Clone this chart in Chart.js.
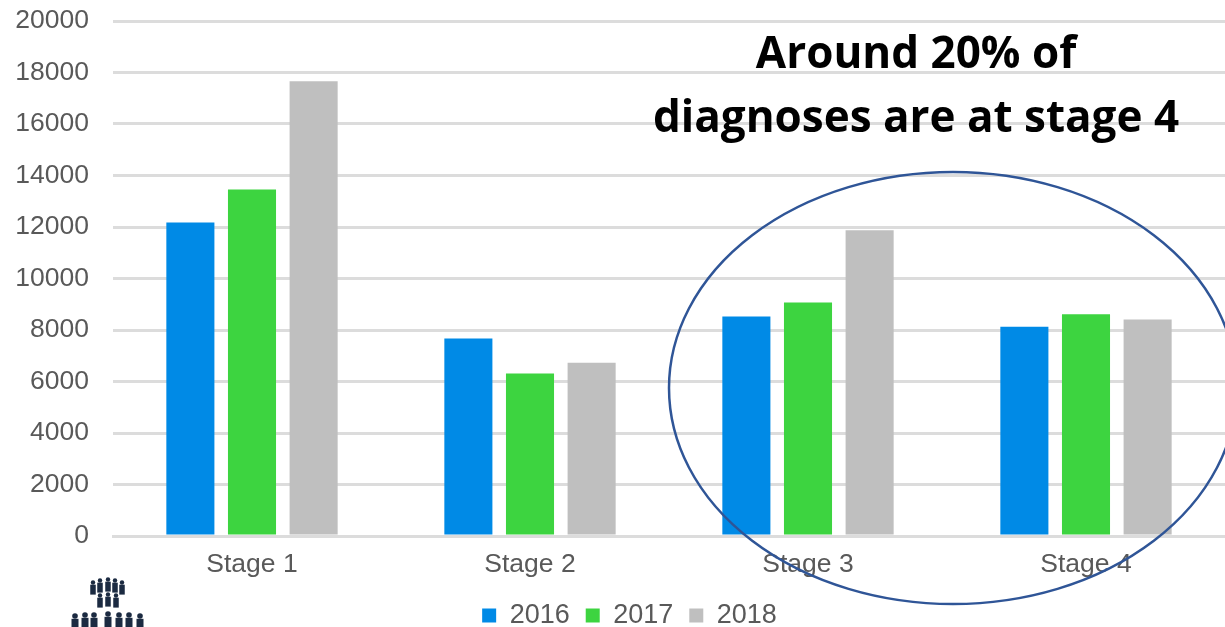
<!DOCTYPE html>
<html>
<head>
<meta charset="utf-8">
<style>
html, body { margin: 0; padding: 0; background: #fff; overflow: hidden; }
#wrap { position: relative; width: 1225px; height: 627px; }
</style>
<script src="https://cdn.jsdelivr.net/npm/chart.js@4"></script>
</head>
<body>
<div id="wrap"><canvas id="stages"></canvas></div>
<script>
var stages = ['Stage 1', 'Stage 2', 'Stage 3', 'Stage 4'];
var y2016 = [12170, 7670, 8520, 8130];
var y2017 = [13460, 6310, 9070, 8610];
var y2018 = [17660, 6730, 11870, 8410];
var noteLines = ['Around 20% of', 'diagnoses are at stage 4'];

// callout text, circle and the small logo sit on top of the chart
var overlay = {
  id: 'overlay',
  afterLayout: function (chart) {
    // legend is centred under the plot, not the canvas
    chart.legend.left += 34;
    chart.legend.top += 2;
  },
  afterDraw: function (chart) {
    var c = chart.ctx;
    c.save();
    c.beginPath();
    c.ellipse(953, 388, 284, 216, 0, 0, Math.PI * 2);
    c.strokeStyle = '#2f5597';
    c.lineWidth = 2.5;
    c.stroke();

    c.fillStyle = '#000';
    c.font = 'bold 44px "Open Sans"';
    c.textAlign = 'center';
    c.textBaseline = 'alphabetic';
    c.fillText(noteLines[0], 916, 68);
    c.fillText(noteLines[1], 916, 132);

    c.fillStyle = '#1b2a41';
    [[93, 588], [100, 586], [108, 585], [115, 586], [122, 588]].forEach(function (p) {
      person(c, p[0], p[1], 1.1);
    });
    [[100, 601], [108, 600], [116, 601]].forEach(function (p) {
      person(c, p[0], p[1], 1.1);
    });
    [[75, 623], [85, 622], [94, 622], [108, 621], [119, 622], [129, 622], [140, 623]].forEach(function (p) {
      person(c, p[0], p[1], 1.4);
    });
    c.restore();
  }
};

function person(c, x, y, s) {
  c.beginPath();
  c.arc(x, y - 5 * s, 2 * s, 0, Math.PI * 2);
  c.fill();
  c.fillRect(x - 2.5 * s, y - 3 * s, 5 * s, 9 * s);
}

new Chart(document.getElementById('stages'), {
  type: 'bar',
  data: {
    labels: stages,
    datasets: [
      { label: '2016', data: y2016, backgroundColor: '#008ae6' },
      { label: '2017', data: y2017, backgroundColor: '#3dd440' },
      { label: '2018', data: y2018, backgroundColor: '#bfbfbf' }
    ]
  },
  options: {
    responsive: true,
    maintainAspectRatio: false,
    animation: false,
    layout: { padding: { left: 0, right: 0, top: 21, bottom: -10 } },
    datasets: { bar: { categoryPercentage: 0.665, barPercentage: 0.78 } },
    plugins: {
      legend: {
        position: 'bottom',
        labels: {
          boxWidth: 14,
          boxHeight: 14,
          padding: 16,
          color: '#595959',
          font: { family: '"Liberation Sans"', size: 27 }
        }
      },
      tooltip: { enabled: false }
    },
    scales: {
      x: {
        afterFit: function (s) { s.height = 48; },
        grid: { display: false },
        border: { color: '#dcdcdc', width: 3 },
        ticks: { color: '#595959', padding: 5, maxRotation: 0, font: { family: '"Liberation Sans"', size: 26.5 } }
      },
      y: {
        min: 0,
        max: 20000,
        afterFit: function (s) { s.width = 113; },
        grid: { color: '#dcdcdc', lineWidth: 3, tickLength: 24, tickColor: 'transparent' },
        border: { display: false },
        ticks: {
          stepSize: 2000,
          color: '#595959',
          padding: 0,
          font: { family: '"Liberation Sans"', size: 26.5 },
          callback: function (v) { return String(v); }
        }
      }
    }
  },
  plugins: [overlay]
});
</script>
</body>
</html>
